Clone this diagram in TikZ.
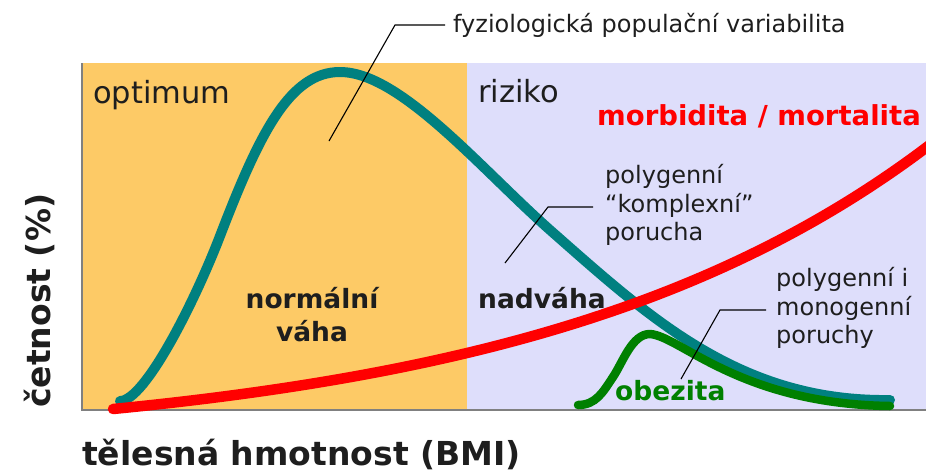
\documentclass[tikz,border=0pt]{standalone}
\usepackage{fontspec}
\setmainfont{DejaVu Sans}
\definecolor{orng}{RGB}{253,202,102}
\definecolor{lav}{RGB}{222,222,251}
\definecolor{tealc}{RGB}{0,128,128}
\definecolor{grn}{RGB}{0,128,0}
\definecolor{axisgray}{RGB}{128,128,128}
\definecolor{txt}{RGB}{30,30,30}
\begin{document}
\begin{tikzpicture}[x=1pt,y=-1pt,
  lbl/.style={inner sep=0pt, anchor=base west, text=txt},
  big/.style={font=\fontsize{30.5}{36}\selectfont},
  note/.style={font=\fontsize{24}{29}\selectfont},
  boldlbl/.style={font=\fontsize{26.5}{32}\selectfont\bfseries},
  axlbl/.style={font=\fontsize{33}{40}\selectfont\bfseries},
  leader/.style={draw=black, line width=1.1pt},
  curve/.style={line cap=round, line join=round}]
\useasboundingbox (0,0) rectangle (926,472);
% regions
\fill[orng] (82,63) rectangle (467,410);
\fill[lav] (467,63) rectangle (926,410);
\draw[axisgray, line width=1.6pt] (82,63) -- (82,410) -- (926,410);
% teal curve
\draw[tealc, curve, line width=10pt]
  (120,401) .. controls (145,401) and (195,301) .. (220,236)
            .. controls (260,132) and (290,72) .. (340,72)
            .. controls (400,72) and (480,168) .. (550,230)
            .. controls (650,318) and (740,402) .. (890,400);
% green curve
\draw[grn, curve, line width=8.5pt]
  (578,405) .. controls (596,405) and (603,392) .. (613,377)
            .. controls (623,362) and (632,334) .. (650,334)
            .. controls (680,336) and (740,404) .. (890,406);
% red curve
\draw[red, curve, line width=10.5pt] plot[domain=113:930, samples=120]
 (\x, {409 - 39.3*(exp(0.0025*(\x-113))-1)});
% texts
\node[lbl, big] (opt) at (93,103) {optimum};
\node[lbl, big] (riz) at (478,102) {riziko};
\node[lbl, font=\fontsize{27.5}{32}\selectfont\bfseries, text=red] (mm) at (597,125) {morbidita / mortalita};
\node[lbl, note] (fyz) at (453,32) {fyziologická populační variabilita};
\node[lbl, note] (pg1) at (605,183) {polygenní};
\node[lbl, note] (pg2) at (605,212) {“komplexní”};
\node[lbl, note] (pg3) at (605,240) {porucha};
\node[lbl, note] (pm1) at (776,286) {polygenní i};
\node[lbl, note] (pm2) at (776,315) {monogenní};
\node[lbl, note] (pm3) at (776,343) {poruchy};
\node[inner sep=0pt, anchor=base, text=txt, boldlbl] (nv1) at (312,308) {normální};
\node[inner sep=0pt, anchor=base, text=txt, boldlbl] (nv2) at (312,341) {váha};
\node[lbl, boldlbl] (nad) at (478,308) {nadváha};
\node[lbl, boldlbl, text=grn] (obz) at (615,400) {obezita};
\node[lbl, axlbl, text depth=4pt] (xl) at (82,465) {tělesná hmotnost (BMI)};
\node[lbl, axlbl, rotate=90] (yl) at (50,408) {četnost (\%)};
% leaders
\coordinate (f1) at (445,25);
\coordinate (f2) at (395,25);
\coordinate (f3) at (329,141);
\draw[leader] (f1) -- (f2) -- (f3);
\coordinate (k1) at (593,207);
\coordinate (k2) at (548,207);
\coordinate (k3) at (505,263);
\draw[leader] (k1) -- (k2) -- (k3);
\coordinate (m1) at (766,310);
\coordinate (m2) at (720,310);
\coordinate (m3) at (681,379);
\draw[leader] (m1) -- (m2) -- (m3);
\end{tikzpicture}
\end{document}
